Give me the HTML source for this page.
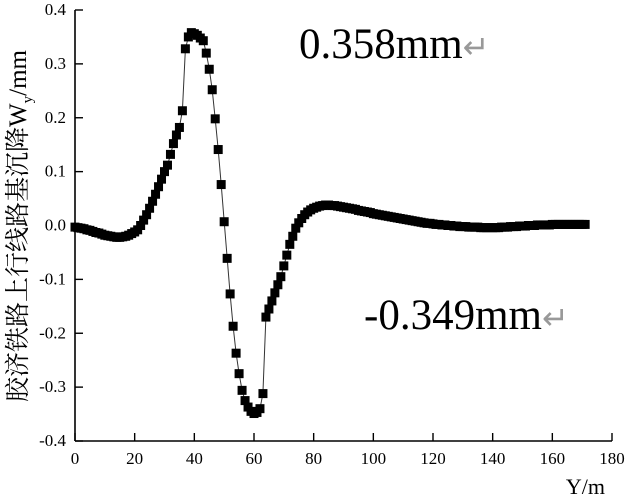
<!DOCTYPE html>
<html><head><meta charset="utf-8"><style>
html,body{margin:0;padding:0;background:#fff;}
svg{display:block;font-family:"Liberation Serif","Noto Serif CJK SC",serif;}
</style></head><body>
<svg id="chart" width="627" height="498" viewBox="0 0 627 498" xmlns="http://www.w3.org/2000/svg">
<g id="axes"></g>
<g id="series"></g>
<text transform="translate(26,226) rotate(-90)" text-anchor="middle" font-size="25" font-family="'Liberation Serif','Noto Serif CJK SC',serif">胶济铁路上行线路基沉降W<tspan font-size="15" dy="6">y</tspan><tspan dy="-6">/mm</tspan></text>
<text x="605" y="494" text-anchor="end" font-size="22">Y/m</text>
<text x="299" y="58" font-size="43">0.358mm<tspan fill="#999" font-size="32">↵</tspan></text>
<text x="364" y="329" font-size="43">-0.349mm<tspan fill="#999" font-size="32">↵</tspan></text>
</svg>
<script>
const xs=[0,1,2,3,4,5,6,7,8,9,10,11,12,13,14,15,16,17,18,19,20,21,22,23,24,25,26,27,28,29,30,31,32,33,34,35,36,37,38,39,40,41,42,43,44,45,46,47,48,49,50,51,52,53,54,55,56,57,58,59,60,61,62,63,64,65,66,67,68,69,70,71,72,73,74,75,76,77,78,79,80,81,82,83,84,85,86,87,88,89,90,91,92,93,94,95,96,97,98,99,100,101,102,103,104,105,106,107,108,109,110,111,112,113,114,115,116,117,118,119,120,121,122,123,124,125,126,127,128,129,130,131,132,133,134,135,136,137,138,139,140,141,142,143,144,145,146,147,148,149,150,151,152,153,154,155,156,157,158,159,160,161,162,163,164,165,166,167,168,169,170,171];
const ys=[-0.003,-0.004,-0.005,-0.006,-0.008,-0.009,-0.011,-0.013,-0.014,-0.016,-0.018,-0.019,-0.020,-0.021,-0.022,-0.022,-0.021,-0.020,-0.018,-0.015,-0.012,-0.008,0.000,0.010,0.020,0.032,0.045,0.058,0.072,0.086,0.100,0.112,0.132,0.152,0.168,0.182,0.213,0.328,0.350,0.358,0.356,0.353,0.348,0.343,0.320,0.290,0.252,0.198,0.141,0.076,0.007,-0.061,-0.127,-0.187,-0.237,-0.275,-0.306,-0.325,-0.337,-0.345,-0.349,-0.347,-0.340,-0.312,-0.170,-0.155,-0.140,-0.125,-0.110,-0.095,-0.075,-0.055,-0.035,-0.020,-0.005,0.005,0.013,0.020,0.025,0.029,0.032,0.034,0.036,0.037,0.038,0.038,0.037,0.037,0.036,0.035,0.034,0.033,0.032,0.031,0.030,0.028,0.027,0.026,0.025,0.024,0.022,0.021,0.020,0.019,0.018,0.017,0.016,0.015,0.014,0.013,0.012,0.011,0.010,0.009,0.008,0.007,0.006,0.005,0.004,0.004,0.003,0.002,0.002,0.001,0.001,0.000,0.000,-0.001,-0.001,-0.002,-0.002,-0.002,-0.003,-0.003,-0.003,-0.003,-0.004,-0.004,-0.004,-0.004,-0.004,-0.004,-0.004,-0.003,-0.003,-0.003,-0.002,-0.002,-0.002,-0.001,-0.001,-0.001,0,0,0,0.001,0.001,0.001,0.001,0.001,0.002,0.002,0.002,0.002,0.002,0.002,0.002,0.002,0.002,0.002,0.002,0.002];
const xTicks=[0,20,40,60,80,100,120,140,160,180];
const yTicks=[0.4,0.3,0.2,0.1,0.0,-0.1,-0.2,-0.3,-0.4];
const yTickLabels=["0.4","0.3","0.2","0.1","0.0","-0.1","-0.2","-0.3","-0.4"];

const X0=75,X1=612,Y0=441,Y1=10;
function sx(v){return X0+(v-0)/(180-0)*(X1-X0);}
function sy(v){return Y0-(v+0.4)/0.8*(Y0-Y1);}
const NS="http://www.w3.org/2000/svg";
function mk(t,a,p){const e=document.createElementNS(NS,t);for(const k in a)e.setAttribute(k,a[k]);p.appendChild(e);return e;}
const axes=document.getElementById('axes');
const series=document.getElementById('series');
let e=mk('line',{x1:X0,y1:Y0,x2:X1,y2:Y0,stroke:'#000','stroke-width':1.6},axes);


e=mk('line',{x1:X0,y1:Y0,x2:X0,y2:Y1,stroke:'#000','stroke-width':1.6},axes);


xTicks.forEach(t=>{
  const x=sx(t);
  const l=mk('line',{x1:x,y1:Y0,x2:x,y2:Y0-8,stroke:'#000','stroke-width':1.4},axes);
  
  
  const tx=mk('text',{x:x,y:Y0+23,'text-anchor':'middle','font-size':17},axes);
  tx.textContent=String(t);
  
  
});
yTicks.forEach((t,i)=>{
  const y=sy(t);
  const l=mk('line',{x1:X0,y1:y,x2:X0+8,y2:y,stroke:'#000','stroke-width':1.4},axes);
  
  
  const tx=mk('text',{x:66,y:y+5,'text-anchor':'end','font-size':17},axes);
  tx.textContent=yTickLabels[i];
  
  
});
const pts=xs.map((x,i)=>sx(x).toFixed(1)+','+sy(ys[i]).toFixed(1)).join(' ');
const pl=mk('polyline',{points:pts,fill:'none',stroke:'#333','stroke-width':1},series);


xs.forEach((x,i)=>{
  const r=mk('rect',{x:sx(x)-4.5,y:sy(ys[i])-4.5,width:9,height:9,fill:'#000'},series);
  
  
});
</script>
</body></html>
